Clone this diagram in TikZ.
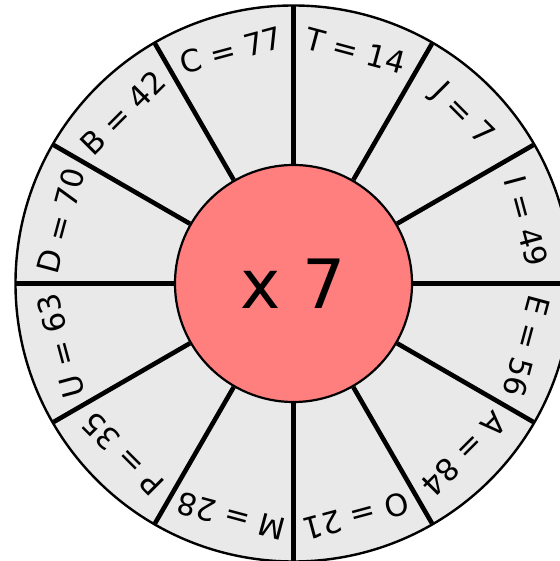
\documentclass[tikz,border=0pt]{standalone}
\usepackage{fontspec}
\setmainfont{DejaVu Sans}
\usetikzlibrary{positioning}
\definecolor{ringgray}{RGB}{233,233,233}
\definecolor{hubred}{RGB}{255,127,127}
\tikzset{
  rimline/.style={draw=black, line width=2.4pt, fill=ringgray},
  spokeline/.style={line width=4.6pt},
  hubnode/.style={circle, draw=black, line width=2.2pt, fill=hubred, minimum size=237pt, inner sep=0pt, font=\fontsize{68}{80}\selectfont},
  factlabel/.style={anchor=base, inner sep=0pt, font=\fontsize{30.5}{36}\selectfont}
}

\begin{document}
\begin{tikzpicture}[x=1pt, y=1pt]
  \useasboundingbox (-293.5,-277.5) rectangle (265.5,283.5);
  \draw[rimline] (0,0) circle (278);
  \node[hubnode] (hub) at (0,0) {x 7};
  % spokes between the facts
  \foreach \a in {0,30,...,330}{
    \coordinate (rim\a) at (\a:277);
    \draw[spokeline] (hub.\a) -- (rim\a);
  }
  % one fact per sector
  \foreach \a/\t [count=\i] in {15/I = 49, 45/J = 7, 75/T = 14, 105/C = 77,
      135/B = 42, 165/D = 70, 195/U = 63, 225/P = 35, 255/M = 28,
      285/O = 21, 315/A = 84, 345/E = 56}
    \node[factlabel, rotate=\a-90] (fact\i) at (\a:230) {\t};
\end{tikzpicture}
\end{document}
